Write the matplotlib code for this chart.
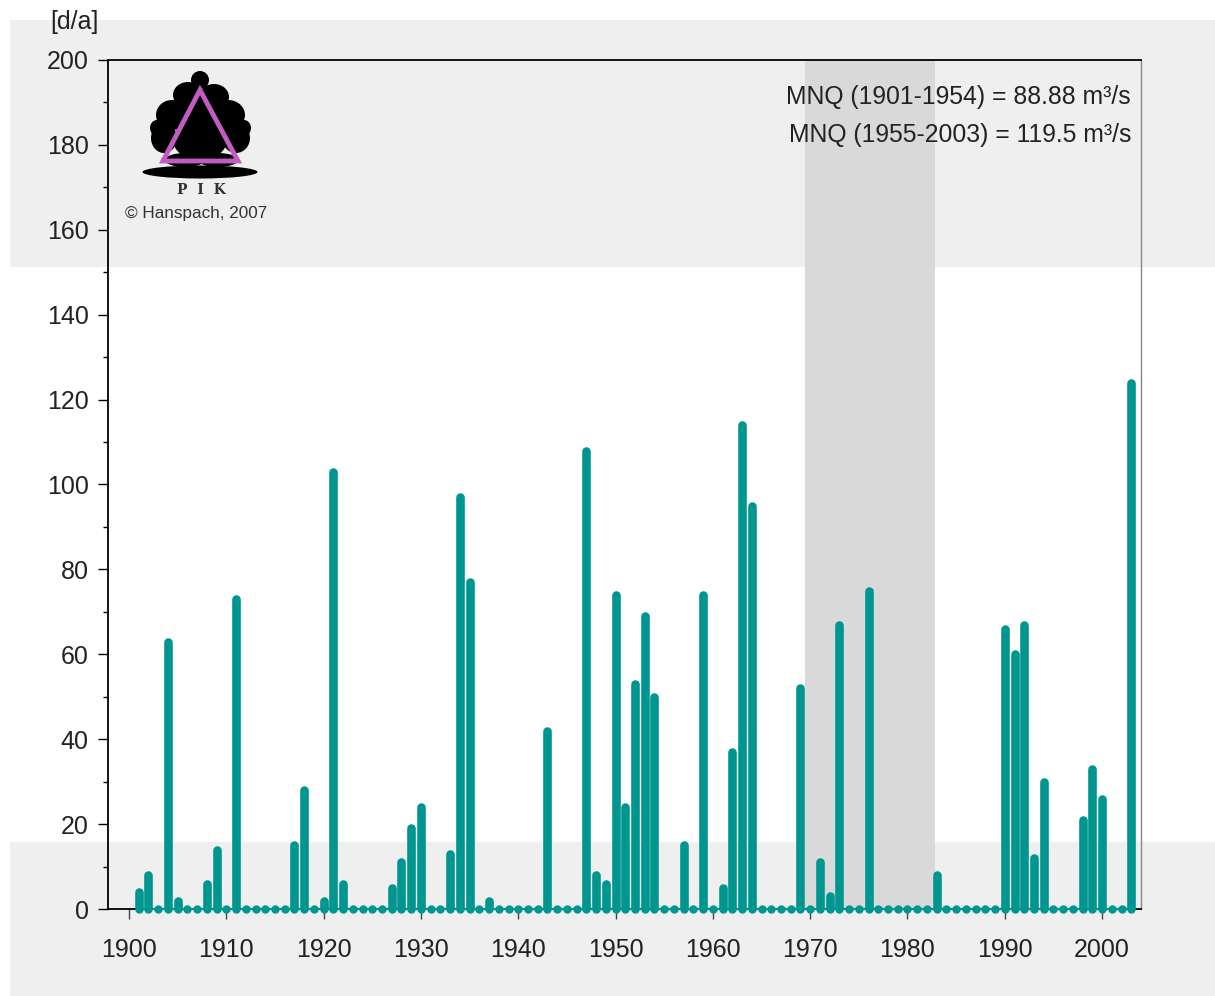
import matplotlib
matplotlib.use("Agg")
import matplotlib.pyplot as plt
from matplotlib.patches import Rectangle, Ellipse, Polygon

TEAL = "#009690"
plt.rcParams["font.family"] = ["Liberation Sans", "DejaVu Sans"]

# days per year below threshold, 1901-2003
years = list(range(1901, 2004))
days_1901_1920 = [4, 8, 0, 63, 2, 0, 0, 6, 14, 0, 73, 0, 0, 0, 0, 0, 15, 28, 0, 2]
days_1921_1940 = [103, 6, 0, 0, 0, 0, 5, 11, 19, 24, 0, 0, 13, 97, 77, 0, 2, 0, 0, 0]
days_1941_1960 = [0, 0, 42, 0, 0, 0, 108, 8, 6, 74, 24, 53, 69, 50, 0, 0, 15, 0, 74, 0]
days_1961_1980 = [5, 37, 114, 95, 0, 0, 0, 0, 52, 0, 11, 3, 67, 0, 0, 75, 0, 0, 0, 0]
days_1981_2003 = [0, 0, 8, 0, 0, 0, 0, 0, 0, 66, 60, 67, 12, 30, 0, 0, 0, 21, 33, 26,
                  0, 0, 124]
days = days_1901_1920 + days_1921_1940 + days_1941_1960 + days_1961_1980 + days_1981_2003

shade_period = (1969.5, 1982.8)
mnq_lines = ["MNQ (1901-1954) = 88.88 m³/s", "MNQ (1955-2003) = 119.5 m³/s"]

W, H = 1215, 996
fig = plt.figure(figsize=(W / 100, H / 100), dpi=100, facecolor="white")

# light grey bands of the original screenshot
for y0, y1 in [(20, 267), (842, 996)]:
    fig.add_artist(Rectangle((10 / W, 1 - y1 / H), (W - 10) / W, (y1 - y0) / H,
                             transform=fig.transFigure, facecolor="#efefef",
                             edgecolor="none", zorder=-5))

ax = fig.add_axes([108 / W, 1 - 909 / H, (1141 - 108) / W, (909 - 60) / H])
ax.set_facecolor("none")
ax.set_xlim(1897.84, 2004.0)
ax.set_ylim(0, 200)

ax.axvspan(*shade_period, color="#d9d9d9", zorder=0, lw=0)

nz_years = [y for y, d in zip(years, days) if d > 0]
nz_days = [d for d in days if d > 0]
bars = ax.vlines(nz_years, 0, nz_days, color=TEAL, linewidth=6.2, zorder=3)
bars.set_capstyle("round")
ax.plot(years, [0] * len(years), color=TEAL, lw=1.6, marker="o", ms=5,
        zorder=4, clip_on=False)

ax.set_yticks(range(0, 201, 20))
ax.set_yticks(range(10, 200, 20), minor=True)
ax.set_xticks(range(1900, 2001, 10))
ax.tick_params(axis="y", which="major", length=7, width=1, labelsize=18, pad=7,
               labelcolor="#222222")
ax.tick_params(axis="y", which="minor", length=3.5, width=1)
ax.tick_params(axis="x", which="major", length=7, width=1, labelsize=18, pad=14,
               color="#444444", labelcolor="#222222")
for s in ["left", "top", "bottom"]:
    ax.spines[s].set_color("black")
    ax.spines[s].set_linewidth(1.3)
ax.spines["right"].set_color("#888888")
ax.spines["right"].set_linewidth(1)

fig.text(50 / W, 1 - 22 / H, "[d/a]", fontsize=18, va="center", ha="left",
         color="#222222")

for i, line in enumerate(mnq_lines):
    fig.text(1131 / W, 1 - (97 + 38 * i) / H, line, fontsize=17.8,
             ha="right", va="center", color="#222222")

# PIK logo overlay in pixel coordinates
lg = fig.add_axes([0, 0, 1, 1])
lg.set_xlim(0, W)
lg.set_ylim(H, 0)
lg.axis("off")
lg.set_facecolor("none")
blobs = [(200, 80, 18, 18), (188, 95, 30, 26), (214, 97, 30, 26),
         (172, 115, 32, 30), (228, 115, 34, 30), (200, 115, 40, 40),
         (164, 138, 26, 30), (236, 138, 28, 30), (200, 140, 54, 40),
         (185, 160, 40, 14), (218, 160, 40, 14), (200, 172, 115, 13),
         (157, 128, 14, 16), (244, 128, 14, 16)]
for cx, cy, w, h in blobs:
    lg.add_patch(Ellipse((cx, cy), w, h, facecolor="black", edgecolor="none"))
lg.add_patch(Polygon([(200, 90), (163, 161), (238, 161)], closed=True,
                     fill=False, edgecolor="#c25cc2", linewidth=3.5))
lg.text(201, 190, "P  I  K", fontsize=10, family="DejaVu Serif",
        fontweight="bold", ha="center", va="center", color="#333333")
lg.text(196, 213, "© Hanspach, 2007", fontsize=12.3, ha="center", va="center",
        color="#333333")

fig.savefig("out.png", dpi=100)
